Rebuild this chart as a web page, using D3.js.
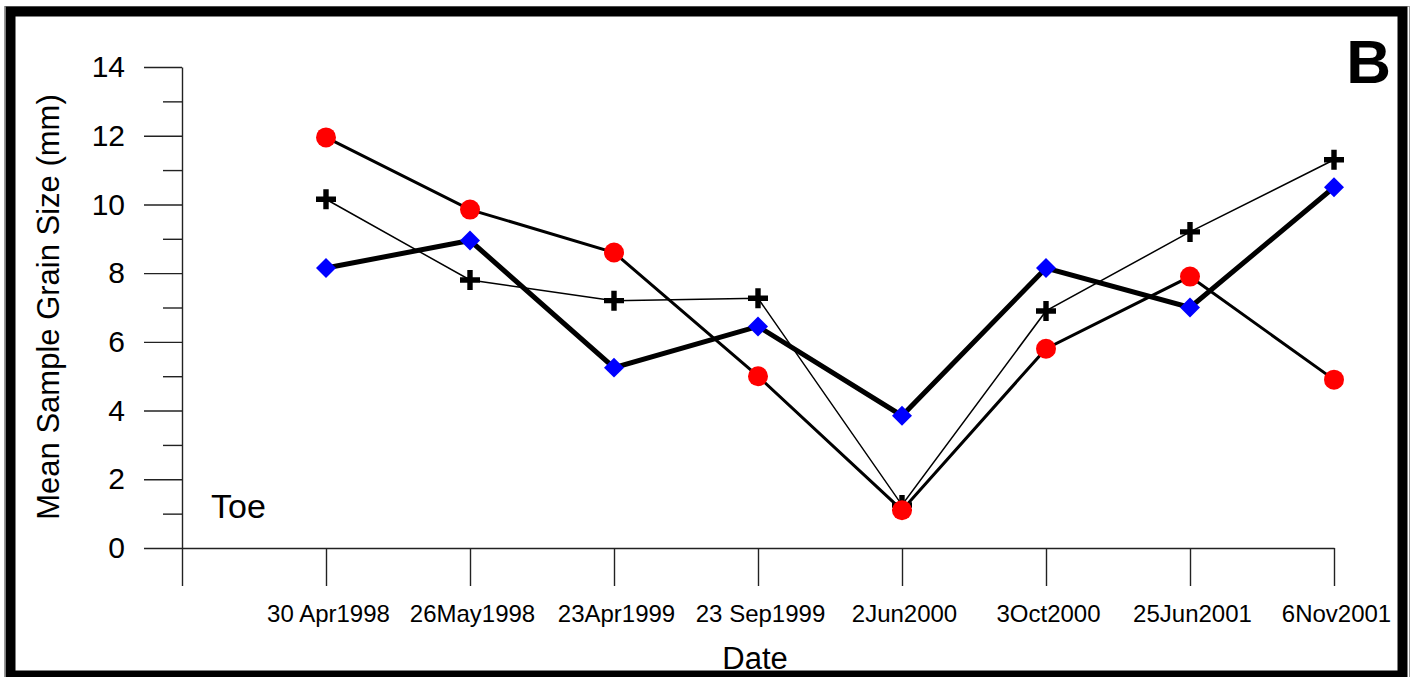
<!DOCTYPE html>
<html>
<head>
<meta charset="utf-8">
<script src="https://cdn.jsdelivr.net/npm/d3@7"></script>
<style>
  html, body { margin: 0; padding: 0; background: #fff; }
  svg { display: block; font-family: "Liberation Sans", Arial, sans-serif; }
</style>
</head>
<body>
<svg id="chart"></svg>
<script>
// sampling dates (category axis)
const dates = ['30 Apr1998', '26May1998', '23Apr1999', '23 Sep1999', '2Jun2000', '3Oct2000', '25Jun2001', '6Nov2001'];

// mean grain size (mm) per series
const circleSeries = [11.95, 9.85, 8.6, 5.0, 1.1, 5.8, 7.9, 4.9];
const diamondSeries = [8.15, 8.95, 5.25, 6.45, 3.85, 8.15, 7.0, 10.5];
const plusSeries = [10.15, 7.8, 7.2, 7.27, 1.25, 6.9, 9.2, 11.3];

const yTicks = [0, 2, 4, 6, 8, 10, 12, 14];

const W = 1414, H = 677;

const svg = d3.select('#chart')
    .attr('width', W)
    .attr('height', H);

// frame
svg.append('rect')
    .attr('x', 4.5).attr('y', 6.5)
    .attr('width', 1405).attr('height', 680)
    .attr('fill', 'none')
    .attr('stroke', '#999')
    .attr('stroke-width', 1);
svg.append('rect')
    .attr('x', 10.5).attr('y', 11.5)
    .attr('width', 1392).attr('height', 664)
    .attr('fill', 'none')
    .attr('stroke', '#000')
    .attr('stroke-width', 10);

const x = d3.scaleLinear().domain([0, dates.length]).range([182, 1334]);
const y = d3.scaleLinear().domain([0, 14]).range([548, 67]);

// y axis: major ticks every 2, minor every 1
const yAxis = svg.append('g')
    .attr('transform', `translate(${x(0)},0)`)
    .call(d3.axisLeft(y)
        .tickValues(d3.range(0, 15, 1))
        .tickSizeOuter(0)
        .tickFormat(d => yTicks.includes(d) ? d : ''));

yAxis.select('.domain').attr('stroke', '#222').attr('stroke-width', 1.4);
yAxis.selectAll('.tick line')
    .attr('stroke', '#222')
    .attr('stroke-width', 1.4)
    .attr('x2', d => yTicks.includes(d) ? -38 : -19);
yAxis.selectAll('.tick text')
    .attr('x', -57)
    .attr('font-size', 30)
    .attr('fill', '#000');

// x axis
const xAxis = svg.append('g')
    .attr('transform', `translate(0,${y(0)})`)
    .call(d3.axisBottom(x)
        .tickValues(d3.range(0, dates.length + 1))
        .tickSize(38)
        .tickSizeOuter(0)
        .tickFormat(d => d > 0 ? dates[d - 1] : ''));

xAxis.select('.domain').attr('stroke', '#222').attr('stroke-width', 1.4);
xAxis.selectAll('.tick line').attr('stroke', '#222').attr('stroke-width', 1.4);
xAxis.selectAll('.tick text')
    .attr('y', 74)
    .attr('dx', 2)
    .attr('dy', 0)
    .attr('font-size', 24)
    .attr('fill', '#000');

// axis titles
svg.append('text')
    .attr('transform', 'translate(59,307) rotate(-90)')
    .attr('text-anchor', 'middle')
    .attr('font-size', 31)
    .text('Mean Sample Grain Size (mm)');

svg.append('text')
    .attr('x', 755).attr('y', 669)
    .attr('text-anchor', 'middle')
    .attr('font-size', 31)
    .text('Date');

svg.append('text')
    .attr('x', 211).attr('y', 518)
    .attr('font-size', 34)
    .text('Toe');

svg.append('text')
    .attr('x', 1391).attr('y', 83)
    .attr('text-anchor', 'end')
    .attr('font-size', 62)
    .attr('font-weight', 'bold')
    .text('B');

const line = d3.line()
    .x((d, i) => x(i + 1))
    .y(d => y(d));

// lines (all black, different weights)
svg.append('path').datum(plusSeries)
    .attr('d', line).attr('fill', 'none')
    .attr('stroke', '#000').attr('stroke-width', 1.5);
svg.append('path').datum(circleSeries)
    .attr('d', line).attr('fill', 'none')
    .attr('stroke', '#000').attr('stroke-width', 3);
svg.append('path').datum(diamondSeries)
    .attr('d', line).attr('fill', 'none')
    .attr('stroke', '#000').attr('stroke-width', 5);

// markers
svg.append('g').selectAll('path')
    .data(diamondSeries).enter()
    .append('path')
    .attr('transform', (d, i) => `translate(${x(i + 1)},${y(d)}) rotate(45)`)
    .attr('d', d3.symbol(d3.symbolSquare, 200)())
    .attr('fill', '#0000ff');

svg.append('g').selectAll('path')
    .data(plusSeries).enter()
    .append('path')
    .attr('transform', (d, i) => `translate(${x(i + 1)},${y(d)})`)
    .attr('d', 'M-10,-2.7H-2.7V-10H2.7V-2.7H10V2.7H2.7V10H-2.7V2.7H-10Z')
    .attr('fill', '#000');

svg.append('g').selectAll('circle')
    .data(circleSeries).enter()
    .append('circle')
    .attr('cx', (d, i) => x(i + 1))
    .attr('cy', d => y(d))
    .attr('r', 10)
    .attr('fill', '#ff0000');
</script>
</body>
</html>
